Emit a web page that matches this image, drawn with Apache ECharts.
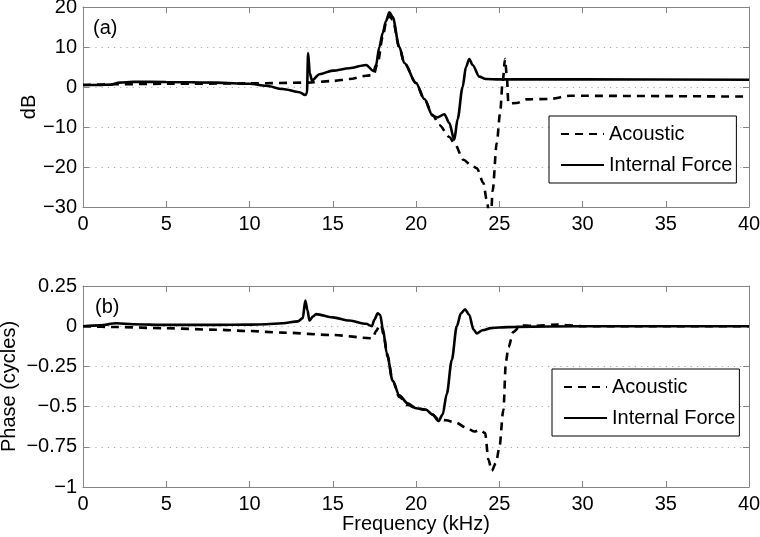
<!DOCTYPE html>
<html>
<head>
<meta charset="utf-8">
<script src="https://cdn.jsdelivr.net/npm/echarts@6/dist/echarts.min.js"></script>
<style>html,body{margin:0;padding:0;background:#fff}#c{width:760px;height:537px}</style>
</head>
<body>
<div id="c"></div>
<script>
// Frequency in kHz, magnitude in dB
const magAcoustic = [[0,0.5],[2,0.7],[5,0.8],[10,0.9],[13.5,1.1],[15,1.5],[16,2],[17,2.8],[17.45,3.0],[17.7,6],[18.0,12.5],[18.2,16],[18.4,17.8],[18.6,16.8],[19.0,9.8],[19.3,6],[20,1],[20.5,-3],[21.0,-7],[21.4,-9.5],[22.0,-12.5],[22.3,-14],[22.85,-18.2],[23.3,-19.5],[23.65,-20.3],[24.05,-24],[24.25,-28.3],[24.4,-32],[24.5,-33],[24.6,-26],[24.85,-14],[25.05,-6.6],[25.2,1],[25.35,7.0],[25.45,3],[25.55,-4.1],[26.05,-4],[26.65,-3.1],[28,-3],[29.25,-2.2],[40,-2.4]];
const magForce = [[0,0.5],[1,0.5],[1.7,0.6],[2.2,1.1],[3,1.3],[5,1.25],[8,1.1],[10,0.8],[11,0.3],[12,-0.5],[13,-1.3],[13.35,-2.0],[13.45,-1.5],[13.52,8.5],[13.62,3.5],[13.75,1.6],[14.2,3.2],[15,4.1],[16,4.7],[17,5.5],[17.45,4.0],[17.6,5.5],[17.8,10],[18.0,13.5],[18.2,16.5],[18.4,18.7],[18.6,17.5],[19.0,10],[19.3,6],[20.0,1],[20.5,-3],[21.0,-7.2],[21.3,-7.6],[21.7,-6.8],[22.0,-9],[22.3,-13.2],[22.5,-8],[22.8,0],[23.0,5],[23.2,7],[23.4,5.5],[23.8,2.6],[24.2,2.0],[25,1.9],[26,1.9],[30,1.9],[40,1.8]];
// Frequency in kHz, phase in cycles
const phaseAcoustic = [[0,0],[2,-0.005],[5,-0.013],[8,-0.022],[10,-0.03],[12,-0.04],[15,-0.055],[17.4,-0.075],[17.6,-0.03],[17.8,0.0],[17.9,0.01],[18.05,-0.05],[18.3,-0.19],[18.6,-0.34],[19.0,-0.44],[19.5,-0.49],[20,-0.51],[20.6,-0.52],[21.0,-0.55],[21.35,-0.58],[21.8,-0.585],[22.4,-0.6],[23,-0.63],[23.5,-0.655],[23.85,-0.645],[24.15,-0.665],[24.35,-0.83],[24.55,-0.9],[24.8,-0.85],[25.0,-0.76],[25.25,-0.52],[25.4,-0.22],[25.55,-0.13],[25.85,-0.035],[26.3,0.005],[27,0.002],[28.5,0.01],[30,0],[40,0]];
const phaseForce = [[0,0],[1,0.005],[2,0.018],[3,0.012],[5,0.008],[8,0.008],[10,0.01],[11,0.012],[12,0.018],[12.9,0.03],[13.2,0.05],[13.35,0.16],[13.48,0.1],[13.6,0.035],[13.8,0.06],[14,0.075],[15,0.055],[16,0.035],[17,0.015],[17.35,0.0],[17.5,0.04],[17.7,0.08],[17.85,0.07],[18.0,-0.01],[18.25,-0.17],[18.6,-0.34],[19.0,-0.43],[19.5,-0.48],[20,-0.51],[20.6,-0.52],[21.0,-0.55],[21.35,-0.59],[21.6,-0.55],[21.85,-0.42],[22.15,-0.21],[22.45,0],[22.7,0.08],[22.95,0.105],[23.2,0.07],[23.45,-0.02],[23.65,-0.045],[24.0,-0.025],[24.5,-0.012],[25,-0.008],[26,-0.004],[30,0],[40,0]];
const seriesNames = ['Acoustic', 'Internal Force'];
const panelLabels = ['(a)', '(b)'];
const axisTitles = { mag: 'dB', phase: 'Phase (cycles)', freq: 'Frequency (kHz)' };

const FONT = "'Liberation Sans', Arial, Helvetica, sans-serif";
const FS = 20;
const frame = '#858585';
const fmt = v => (v === 0 ? '0' : String(v).replace('-', '\u2212'));

function xAx(grid, pos, showLabel, name) {
  return {
    type: 'value', gridIndex: grid, position: pos, min: 0, max: 40, interval: 5,
    name: name || '', nameLocation: 'middle', nameGap: 27, nameMoveOverlap: false,
    nameTextStyle: { fontFamily: FONT, fontSize: FS, color: '#000' },
    axisLine: { show: true, onZero: false, lineStyle: { color: frame, width: 1 } },
    axisTick: { show: true, inside: true, length: 6, lineStyle: { color: frame } },
    axisLabel: { show: showLabel, margin: 7, fontFamily: FONT, fontSize: FS, color: '#000', formatter: fmt },
    splitLine: { show: false }
  };
}
function yAx(grid, pos, showLabel, min, max, interval, name, gap) {
  return {
    type: 'value', gridIndex: grid, position: pos, min: min, max: max, interval: interval,
    name: name || '', nameLocation: 'middle', nameGap: gap || 0, nameMoveOverlap: false,
    nameTextStyle: { fontFamily: FONT, fontSize: FS, color: '#000' },
    axisLine: { show: true, onZero: false, lineStyle: { color: frame, width: 1 } },
    axisTick: { show: true, inside: true, length: 6, lineStyle: { color: frame } },
    axisLabel: { show: showLabel, margin: 6, fontFamily: FONT, fontSize: FS, color: '#000', formatter: fmt },
    splitLine: { show: showLabel, lineStyle: { color: '#aaaaaa', type: [1.2, 5], width: 1 } }
  };
}
function ser(name, data, xi, yi, dashed) {
  return {
    name: name, type: 'line', data: data, xAxisIndex: xi, yAxisIndex: yi,
    symbol: 'none', showSymbol: false, smooth: 0.3, smoothMonotone: 'x', clip: true,
    lineStyle: { color: '#000', width: 2.6, type: dashed ? [8, 6] : 'solid' },
    itemStyle: { color: '#000' }, z: dashed ? 2 : 3, animation: false
  };
}
function leg(left, top) {
  return {
    orient: 'vertical', left: left, top: top, data: seriesNames, selectedMode: false,
    itemWidth: 43, itemHeight: 14, itemGap: 11, padding: [8, 4, 8, 11],
    borderColor: '#000', borderWidth: 1, borderRadius: 0, backgroundColor: '#fff',
    itemStyle: { opacity: 0 },
    textStyle: { fontFamily: FONT, fontSize: FS, color: '#000', lineHeight: 20 }
  };
}

const chart = echarts.init(document.getElementById('c'), null, { renderer: 'canvas' });
chart.setOption({
  animation: false,
  backgroundColor: '#fff',
  grid: [
    { left: 83, right: 11, top: 7, height: 200, outerBoundsMode: 'none', containLabel: false },
    { left: 83, right: 11, top: 286, height: 201, outerBoundsMode: 'none', containLabel: false }
  ],
  xAxis: [
    xAx(0, 'bottom', true), xAx(0, 'top', false),
    xAx(1, 'bottom', true, axisTitles.freq), xAx(1, 'top', false)
  ],
  yAxis: [
    yAx(0, 'left', true, -30, 20, 10, axisTitles.mag, 44), yAx(0, 'right', false, -30, 20, 10),
    yAx(1, 'left', true, -1, 0.25, 0.25, axisTitles.phase, 64), yAx(1, 'right', false, -1, 0.25, 0.25)
  ],
  legend: [leg(549, 116), leg(552, 369)],
  series: [
    ser(seriesNames[0], magAcoustic, 0, 0, true),
    ser(seriesNames[1], magForce, 0, 0, false),
    ser(seriesNames[0], phaseAcoustic, 2, 2, true),
    ser(seriesNames[1], phaseForce, 2, 2, false)
  ],
  graphic: [
    { type: 'text', left: 93, top: 18, style: { text: panelLabels[0], font: FS + 'px ' + FONT, fill: '#000' } },
    { type: 'text', left: 95, top: 297, style: { text: panelLabels[1], font: FS + 'px ' + FONT, fill: '#000' } }
  ]
});
</script>
</body>
</html>
